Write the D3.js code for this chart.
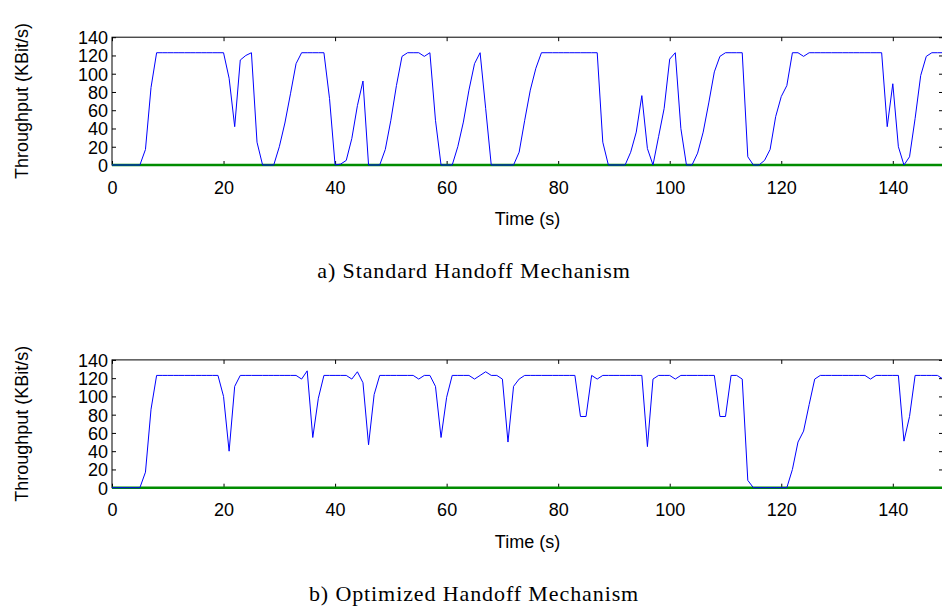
<!DOCTYPE html>
<html>
<head>
<meta charset="utf-8">
<script src="https://cdn.jsdelivr.net/npm/d3@7"></script>
<style>
	body { margin: 0; background: #fff; }
	figure { margin: 0; }
	svg { display: block; }
</style>
</head>
<body>
<figure id="handoff"></figure>
<script>
// one sample per second, t = index
const timeTicks = [0, 20, 40, 60, 80, 100, 120, 140];
const throughputTicks = [0, 20, 40, 60, 80, 100, 120, 140];

const standardThroughput = [
	0, 0, 0, 0, 0, 0, 17, 85, 123, 123,
	123, 123, 123, 123, 123, 123, 123, 123, 123, 123,
	123, 95, 42, 115, 120, 123, 25, 0, 0, 0,
	20, 46, 78, 111, 123, 123, 123, 123, 123, 73,
	0, 1, 5, 29, 65, 92, 0, 0, 0, 17,
	49, 87, 119, 123, 123, 123, 119, 123, 49, 0,
	0, 0, 20, 47, 82, 111, 123, 62, 0, 0,
	0, 0, 0, 14, 49, 82, 106, 123, 123, 123,
	123, 123, 123, 123, 123, 123, 123, 123, 25, 0,
	0, 0, 0, 14, 36, 76, 18, 0, 31, 62,
	116, 123, 40, 0, 0, 13, 36, 68, 102, 119,
	123, 123, 123, 123, 9, 0, 0, 5, 17, 53,
	75, 87, 123, 123, 119, 123, 123, 123, 123, 123,
	123, 123, 123, 123, 123, 123, 123, 123, 123, 42,
	89, 20, 0, 9, 51, 98, 119, 123, 123, 123
];

const optimizedThroughput = [
	0, 0, 0, 0, 0, 0, 17, 86, 123, 123,
	123, 123, 123, 123, 123, 123, 123, 123, 123, 123,
	100, 40, 111, 123, 123, 123, 123, 123, 123, 123,
	123, 123, 123, 123, 119, 128, 55, 98, 123, 123,
	123, 123, 123, 119, 127, 115, 47, 102, 123, 123,
	123, 123, 123, 123, 123, 119, 123, 123, 111, 55,
	99, 123, 123, 123, 123, 119, 123, 127, 123, 123,
	119, 50, 111, 119, 123, 123, 123, 123, 123, 123,
	123, 123, 123, 123, 78, 78, 123, 119, 123, 123,
	123, 123, 123, 123, 123, 123, 45, 119, 123, 123,
	123, 119, 123, 123, 123, 123, 123, 123, 123, 78,
	78, 123, 123, 119, 8, 0, 0, 0, 0, 0,
	0, 0, 20, 50, 62, 91, 119, 123, 123, 123,
	123, 123, 123, 123, 123, 123, 119, 123, 123, 123,
	123, 123, 51, 78, 123, 123, 123, 123, 123, 119
];

// second series stays at zero the whole run
const lossTimes = [0, 149];
const lossValues = [0, 0];

const captions = ["a) Standard Handoff Mechanism", "b) Optimized Handoff Mechanism"];

const sans = "'Liberation Sans', Arial, sans-serif";
const serif = "'Liberation Serif', 'Times New Roman', serif";

class ThroughputPanel {

	constructor(svg, offsetY) {
		this.g = svg.append("g").attr("transform", "translate(0," + offsetY + ")");
		this.left = 112;
		this.right = 943;
		this.top = 37.2;
		this.bottom = 165;
		this.xScale = d3.scaleLinear().domain([0, 149]).range([this.left, this.right]);
		this.yScale = d3.scaleLinear().domain([0, 140]).range([this.bottom, this.top]);
	}

	draw(values, caption) {
		const g = this.g;

		// left axis with labels, ticks pointing inward
		const yAxis = g.append("g")
			.attr("transform", "translate(" + this.left + ",0)")
			.call(d3.axisLeft(this.yScale).tickValues(throughputTicks)
				.tickSizeInner(-4).tickSizeOuter(0).tickPadding(4));
		const yAxisRight = g.append("g")
			.attr("transform", "translate(" + this.right + ",0)")
			.call(d3.axisRight(this.yScale).tickValues(throughputTicks)
				.tickSizeInner(-4).tickSizeOuter(0).tickFormat(""));

		const xAxis = g.append("g")
			.attr("transform", "translate(0," + this.bottom + ")")
			.call(d3.axisBottom(this.xScale).tickValues(timeTicks)
				.tickSizeInner(-4).tickSizeOuter(0).tickPadding(16));
		const xAxisTop = g.append("g")
			.attr("transform", "translate(0," + this.top + ")")
			.call(d3.axisTop(this.xScale).tickValues(timeTicks)
				.tickSizeInner(-4).tickSizeOuter(0).tickFormat(""));

		[yAxis, yAxisRight, xAxis, xAxisTop].forEach((a) => {
			a.select(".domain").remove();
			a.selectAll(".tick line").attr("stroke", "#000");
			a.selectAll(".tick text")
				.attr("fill", "#000")
				.style("font-family", sans)
				.style("font-size", "18px");
		});
		yAxis.selectAll(".tick text").attr("dy", "0.36em");

		// frame
		g.append("rect")
			.attr("x", this.left)
			.attr("y", this.top)
			.attr("width", this.right - this.left)
			.attr("height", this.bottom - this.top)
			.attr("fill", "none")
			.attr("stroke", "#000")
			.attr("stroke-width", 1);

		const lossLine = d3.line()
			.x((d, i) => this.xScale(lossTimes[i]))
			.y((d) => this.yScale(d));
		g.append("path")
			.datum(lossValues)
			.attr("d", lossLine)
			.attr("fill", "none")
			.attr("stroke", "#008c00")
			.attr("stroke-width", 2.5);

		const throughputLine = d3.line()
			.x((d, i) => this.xScale(i))
			.y((d) => this.yScale(d));
		g.append("path")
			.datum(values)
			.attr("d", throughputLine)
			.attr("fill", "none")
			.attr("stroke", "#0000ff")
			.attr("stroke-width", 1);

		g.append("text")
			.attr("transform", "translate(28,101) rotate(-90)")
			.attr("text-anchor", "middle")
			.style("font-family", sans)
			.style("font-size", "18px")
			.text("Throughput (KBit/s)");

		g.append("text")
			.attr("x", (this.left + this.right) / 2)
			.attr("y", 225)
			.attr("text-anchor", "middle")
			.style("font-family", sans)
			.style("font-size", "18px")
			.text("Time (s)");

		g.append("text")
			.attr("x", 474)
			.attr("y", 278)
			.attr("text-anchor", "middle")
			.style("font-family", serif)
			.style("font-size", "22px")
			.style("letter-spacing", "0.9px")
			.text(caption);
	}
}

const svg = d3.select("figure#handoff").append("svg")
	.attr("width", 942)
	.attr("height", 607);

new ThroughputPanel(svg, 0).draw(standardThroughput, captions[0]);
new ThroughputPanel(svg, 322.7).draw(optimizedThroughput, captions[1]);
</script>
</body>
</html>
